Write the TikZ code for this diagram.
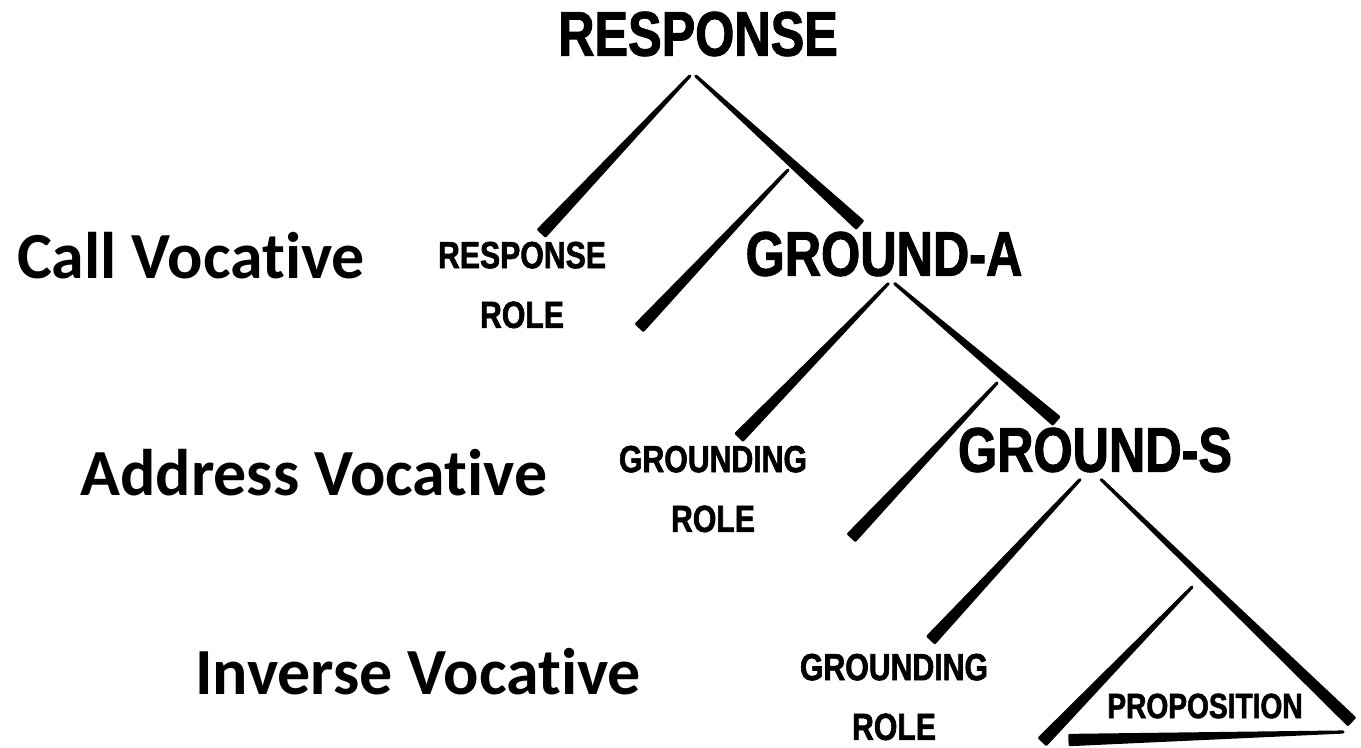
\documentclass[tikz,border=0pt]{standalone}
\usepackage{fontspec}
\newfontfamily\brushfont[FakeStretch=0.8, FakeBold=1.6]{Liberation Sans}
\newfontfamily\labelfont[Ligatures=NoCommon]{Carlito}
\usetikzlibrary{calc}
\tikzset{
  cat/.style={
    font=\brushfont\bfseries\fontsize{35.8}{36}\selectfont,
    inner xsep=0pt, inner ysep=4pt
  },
  role/.style={
    font=\brushfont\bfseries\fontsize{21.5}{34}\selectfont,
    align=center, inner sep=5pt
  },
  voc/.style={
    font=\labelfont\bfseries\fontsize{37.5}{40}\selectfont,
    inner sep=0pt
  },
  brush/.style={
    fill=black, draw=black, line width=1.8pt, line join=round,
    to path={-- ($(\tikztotarget)!2.6pt!90:(\tikztostart)$)
      -- ($(\tikztotarget)!2.6pt!-90:(\tikztostart)$) -- cycle}
  },
}
\begin{document}
\begin{tikzpicture}[x=0.02cm, y=-0.02cm]
  \useasboundingbox (0,0) rectangle (1361,747);

  % Categories
  \node[cat, inner ysep=11pt] (resp) at (698,34) {RESPONSE};
  \node[cat] (grA) at (884,254) {GROUND-A};
  \node[cat] (grS) at (1095,450) {GROUND-S};

  % Roles
  \node[role] (rrole) at (522,285) {RESPONSE\\ROLE};
  \node[role] (grole1) at (713,489) {GROUNDING\\ROLE};
  \node[role, inner ysep=8pt] (grole2) at (894,697) {GROUNDING\\ROLE};
  \node[role, font=\brushfont\bfseries\fontsize{20}{24}\selectfont] (prop) at (1205,706) {PROPOSITION};

  % Vocatives
  \node[voc] (call) at (191,256) {Call Vocative};
  \node[voc] (addr) at (314,473) {Address Vocative};
  \node[voc] (inv) at (418,672) {Inverse Vocative};

  % Free ends
  \coordinate (t1a) at (788,170);
  \coordinate (t1b) at (640,327);
  \coordinate (t2a) at (997,383);
  \coordinate (t2b) at (852,537);
  \coordinate (t3a) at (1192,587);
  \coordinate (t3b) at (1043,741);
  \coordinate (triR) at (1351,721);
  \coordinate (baseL) at (1070,740);
  \coordinate (baseR) at (1343,732);

  % Branches
  \draw[brush] (resp.-101) to (rrole.69);
  \draw[brush] (resp.-93) to (grA.130);
  \draw[brush] (grA.-82) to (grole1.63);
  \draw[brush] (grA.-70) to (grS.143);
  \draw[brush] (grS.-117) to (grole2.57);
  \draw[brush] (grS.-78) to (triR);

  % Traces
  \draw[brush] (t1a) to (t1b);
  \draw[brush] (t2a) to (t2b);
  \draw[brush] (t3a) to (t3b);
  \draw[brush] (baseR) to (baseL);

\end{tikzpicture}
\end{document}
